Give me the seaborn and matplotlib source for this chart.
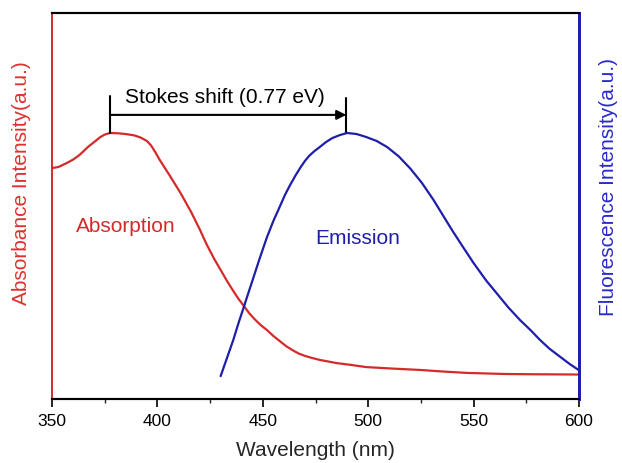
import matplotlib
matplotlib.use("Agg")
import matplotlib.pyplot as plt
import seaborn as sns
import pandas as pd
from matplotlib.ticker import MultipleLocator

sns.set_style("ticks")
plt.rcParams['font.family'] = ['Liberation Sans', 'DejaVu Sans']

# Absorption spectrum (normalised)
abs_wl = [350, 353, 357, 360, 363, 367, 370, 373, 375, 377.5, 381, 385, 389, 392,
          395, 397, 399, 401, 403.5, 406, 411, 416, 420, 423.5, 427, 430, 433,
          436, 438.5, 441, 443.5, 446, 449, 452, 455, 458, 461, 464, 467, 470,
          473.5, 477, 485, 492, 499, 510, 525, 536, 547, 565, 578, 600]
abs_val = [0.868, 0.872, 0.887, 0.900, 0.917, 0.947, 0.966, 0.985, 0.994, 1.000,
           0.999, 0.996, 0.991, 0.983, 0.970, 0.953, 0.928, 0.900, 0.869, 0.838,
           0.774, 0.703, 0.639, 0.579, 0.526, 0.485, 0.444, 0.406, 0.376, 0.350,
           0.323, 0.301, 0.278, 0.259, 0.237, 0.218, 0.199, 0.184, 0.171, 0.162,
           0.154, 0.147, 0.135, 0.128, 0.120, 0.115, 0.109, 0.103, 0.098, 0.094,
           0.093, 0.092]

# Emission spectrum (normalised)
em_wl = [430, 433, 436, 438.5, 441, 443, 445, 448.5, 452, 455, 458, 460.5, 463,
         465.5, 468, 470, 472, 474.5, 477, 480, 483, 486.5, 490, 494.5, 499, 504,
         509, 514.5, 520, 525.5, 531, 535.5, 540, 545, 550, 556, 561, 566.5, 572,
         577, 581.5, 586, 591, 595.5, 600]
em_val = [0.086, 0.154, 0.222, 0.286, 0.346, 0.395, 0.443, 0.528, 0.609, 0.669,
          0.722, 0.767, 0.805, 0.840, 0.872, 0.895, 0.914, 0.932, 0.947, 0.966,
          0.981, 0.992, 1.000, 0.996, 0.985, 0.970, 0.947, 0.912, 0.866, 0.812,
          0.748, 0.690, 0.632, 0.571, 0.511, 0.445, 0.397, 0.344, 0.297, 0.259,
          0.222, 0.189, 0.159, 0.132, 0.108]

abs_peak = 377.5
em_peak = 489.6
shift_label = "Stokes shift (0.77 eV)"

RED = "#d42a2a"
BLUE = "#1e1eaa"

df_abs = pd.DataFrame({"wl": abs_wl, "val": abs_val})
df_em = pd.DataFrame({"wl": em_wl, "val": em_val})

fig = plt.figure(figsize=(6.22, 4.63), dpi=100)
ax = fig.add_axes([52/622, 1-399/463, 527/622, 386/463])
ax2 = ax.twinx()

sns.lineplot(data=df_abs, x="wl", y="val", ax=ax, color=RED, linewidth=1.6)
sns.lineplot(data=df_em, x="wl", y="val", ax=ax2, color=BLUE, linewidth=1.6)

ymax = 1.451
for a in (ax, ax2):
    a.set_ylim(0, ymax)
    a.set_yticks([])
    a.set_ylabel("")
ax.set_xlim(350, 600)
ax.xaxis.set_major_locator(MultipleLocator(50))
ax.xaxis.set_minor_locator(MultipleLocator(25))
ax.tick_params(axis='x', which='major', direction='out', length=6, width=1.2,
               labelsize=12.5, colors='black', pad=4.5)
ax.tick_params(axis='x', which='minor', direction='out', length=3, width=1.0)
ax.set_xlabel("Wavelength (nm)", fontsize=15, labelpad=9)

for a in (ax, ax2):
    a.spines['top'].set_color('black')
    a.spines['bottom'].set_color('black')
    a.spines['top'].set_linewidth(1.5)
    a.spines['bottom'].set_linewidth(1.5)
    a.spines['left'].set_color(RED)
    a.spines['left'].set_linewidth(1.2)
    a.spines['right'].set_color(BLUE)
    a.spines['right'].set_linewidth(2.0)

# Stokes shift annotation
ax.plot([abs_peak, abs_peak], [1.0, 1.139], color='black', lw=1.5)
ax.plot([em_peak, em_peak], [1.0, 1.132], color='black', lw=1.5)
ax.annotate("", xy=(em_peak, 1.068), xytext=(abs_peak, 1.068),
            arrowprops=dict(arrowstyle='-|>', color='black', lw=1.5,
                            mutation_scale=14, shrinkA=0, shrinkB=0))
ax.text(384.6, 1.135, shift_label, fontsize=15, ha='left', va='center', color='black')

ax.text(361.4, 0.650, "Absorption", fontsize=15, color=RED, ha='left', va='center')
ax.text(474.8, 0.602, "Emission", fontsize=15, color=BLUE, ha='left', va='center')

fig.text(22/622, 1-183/463, "Absorbance Intensity(a.u.)", rotation=90, fontsize=15,
         color="#e03030", ha='center', va='center')
fig.text(608/622, 1-187/463, "Fluorescence Intensity(a.u.)", rotation=90, fontsize=15,
         color="#2a2acc", ha='center', va='center')

fig.savefig("out.png", dpi=100)
